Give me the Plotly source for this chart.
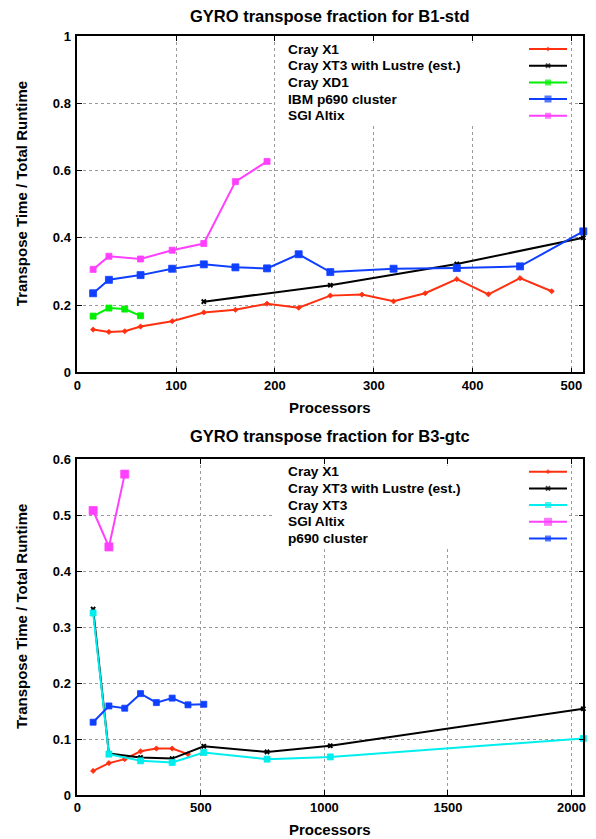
import plotly.graph_objects as go

# ---------------- data ----------------
# Top chart: B1-std
top_x1_x = [16, 32, 48, 64, 96, 128, 160, 192, 224, 256, 288, 320, 352, 384, 416, 448, 480]
top_x1_y = [0.127, 0.120, 0.122, 0.136, 0.152, 0.178, 0.186, 0.204, 0.192, 0.228, 0.231, 0.211, 0.235, 0.277, 0.232, 0.280, 0.241]
top_xt3l_x = [128, 256, 384, 512]
top_xt3l_y = [0.210, 0.259, 0.322, 0.400]
top_xd1_x = [16, 32, 48, 64]
top_xd1_y = [0.167, 0.191, 0.188, 0.168]
top_p690_x = [16, 32, 64, 96, 128, 160, 192, 224, 256, 320, 384, 448, 512]
top_p690_y = [0.235, 0.275, 0.289, 0.308, 0.321, 0.312, 0.309, 0.351, 0.298, 0.308, 0.310, 0.315, 0.419]
top_altix_x = [16, 32, 64, 96, 128, 160, 192]
top_altix_y = [0.306, 0.345, 0.337, 0.363, 0.383, 0.567, 0.627]

# Bottom chart: B3-gtc
bot_x1_x = [64, 128, 192, 256, 320, 384, 448]
bot_x1_y = [0.043, 0.057, 0.064, 0.078, 0.083, 0.083, 0.073]
bot_xt3l_x = [64, 128, 256, 384, 512, 768, 1024, 2048]
bot_xt3l_y = [0.332, 0.074, 0.067, 0.065, 0.087, 0.077, 0.088, 0.154]
bot_xt3_x = [64, 128, 256, 384, 512, 768, 1024, 2048]
bot_xt3_y = [0.325, 0.073, 0.061, 0.058, 0.076, 0.064, 0.068, 0.101]
bot_altix_x = [64, 128, 192]
bot_altix_y = [0.508, 0.443, 0.573]
bot_p690_x = [64, 128, 192, 256, 320, 384, 448, 512]
bot_p690_y = [0.130, 0.159, 0.155, 0.181, 0.165, 0.173, 0.161, 0.162]

top_title = "GYRO transpose fraction for B1-std"
bot_title = "GYRO transpose fraction for B3-gtc"
x_title = "Processors"
y_title = "Transpose Time / Total Runtime"

# ---------------- style ----------------
FONT = "Liberation Sans"
RED = "#ff3010"
BLACK = "#000000"
GREEN = "#00ee00"
BLUE = "#1040ff"
MAGENTA = "#ff40ff"
CYAN = "#00eeee"

W, H = 596, 839
PX_L, PX_R = 77.3, 583.3
TOP_T, TOP_B = 36.0, 372.3
BOT_T, BOT_B = 459.0, 795.0

# legend box geometry (pixels)
BOX_L, BOX_R = 275.0, 568.0
SAMPLE_L, SAMPLE_R = 529.0, 567.0
TEXT_L = 285.7
ROW_STEP = 16.7
TOP_ROW0, TOP_BOX_T, TOP_BOX_B = 49.0, 42.7, 125.0
BOT_ROW0, BOT_BOX_T, BOT_BOX_B = 471.7, 465.7, 546.0


def px_x(p):
    return p / W


def px_y(p):
    return 1 - p / H


top_series = [
    ("Cray X1", top_x1_x, top_x1_y, RED, "diamond", 4),
    ("Cray XT3 with Lustre (est.)", top_xt3l_x, top_xt3l_y, BLACK, "x", 5),
    ("Cray XD1", top_xd1_x, top_xd1_y, GREEN, "square", 6),
    ("IBM p690 cluster", top_p690_x, top_p690_y, BLUE, "square", 7),
    ("SGI Altix", top_altix_x, top_altix_y, MAGENTA, "square", 6),
]
bot_series = [
    ("Cray X1", bot_x1_x, bot_x1_y, RED, "diamond", 4),
    ("Cray XT3 with Lustre (est.)", bot_xt3l_x, bot_xt3l_y, BLACK, "x", 5),
    ("Cray XT3", bot_xt3_x, bot_xt3_y, CYAN, "square", 6),
    ("SGI Altix", bot_altix_x, bot_altix_y, MAGENTA, "square", 8),
    ("p690 cluster", bot_p690_x, bot_p690_y, BLUE, "square", 6),
]

fig = go.Figure()

s0 = (SAMPLE_L - BOX_L) / (BOX_R - BOX_L)
s1 = (SAMPLE_R - BOX_L) / (BOX_R - BOX_L)


def add_series(series, xa, ya, lxa, lya, yr):
    for name, xs, ys, col, sym, sz in series:
        fig.add_trace(go.Scatter(
            x=xs, y=ys, mode="lines+markers", name=name, showlegend=False,
            xaxis=xa, yaxis=ya, line=dict(color=col, width=2),
            marker=dict(color=col, symbol=sym, size=sz,
                        line=dict(width=0.8 if sym != "x" else 0, color=col)),
            cliponaxis=False,
        ))
    # white legend background (covers gridlines)
    fig.add_trace(go.Scatter(
        x=[0, 1, 1, 0, 0], y=[yr[1], yr[1], yr[0], yr[0], yr[1]], mode="lines",
        fill="toself", fillcolor="white", line=dict(width=0, color="white"),
        xaxis=lxa, yaxis=lya, showlegend=False, hoverinfo="skip",
    ))
    for i, (name, xs, ys, col, sym, sz) in enumerate(series):
        fig.add_trace(go.Scatter(
            x=[s0, (s0 + s1) / 2, s1], y=[i + 1] * 3, mode="lines+markers", showlegend=False,
            xaxis=lxa, yaxis=lya, line=dict(color=col, width=2),
            marker=dict(color=col, symbol=sym, size=[0, sz, 0], line=dict(width=0)),
            hoverinfo="skip",
        ))


def legend_range(row0, box_t, box_b):
    # value v maps to pixel row0 + (v - 1) * ROW_STEP
    return [1 + (box_b - row0) / ROW_STEP, 1 + (box_t - row0) / ROW_STEP]


top_yr = legend_range(TOP_ROW0, TOP_BOX_T, TOP_BOX_B)
bot_yr = legend_range(BOT_ROW0, BOT_BOX_T, BOT_BOX_B)

add_series(top_series, "x", "y", "x3", "y3", top_yr)
add_series(bot_series, "x2", "y2", "x4", "y4", bot_yr)

tickfont = dict(family=FONT, size=13, color="black", weight="bold")
common = dict(showline=True, linecolor="black", linewidth=1.5, mirror="ticks",
              ticks="inside", ticklen=5, tickwidth=1, tickcolor="black",
              showgrid=True, gridcolor="#9a9a9a", griddash="dot", gridwidth=1,
              zeroline=False, tickfont=tickfont, automargin=False, tick0=0)

xdom = [px_x(PX_L), px_x(PX_R)]
boxdom = [px_x(BOX_L), px_x(BOX_R)]
fig.update_layout(
    width=W, height=H, margin=dict(l=0, r=0, t=0, b=0),
    template="none", paper_bgcolor="white", plot_bgcolor="white",
    showlegend=False,
    xaxis=dict(domain=xdom, range=[0, 512], dtick=100, anchor="y", **common),
    yaxis=dict(domain=[px_y(TOP_B), px_y(TOP_T)], range=[0, 1], dtick=0.2, anchor="x",
               ticklabelstandoff=2, **common),
    xaxis2=dict(domain=xdom, range=[0, 2048], dtick=500, anchor="y2", **common),
    yaxis2=dict(domain=[px_y(BOT_B), px_y(BOT_T)], range=[0, 0.6], dtick=0.1, anchor="x2",
                ticklabelstandoff=2, **common),
    # legend axes
    xaxis3=dict(domain=boxdom, range=[0, 1], visible=False, anchor="y3", fixedrange=True),
    yaxis3=dict(domain=[px_y(TOP_BOX_B), px_y(TOP_BOX_T)], range=top_yr, visible=False,
                anchor="x3", fixedrange=True),
    xaxis4=dict(domain=boxdom, range=[0, 1], visible=False, anchor="y4", fixedrange=True),
    yaxis4=dict(domain=[px_y(BOT_BOX_B), px_y(BOT_BOX_T)], range=bot_yr, visible=False,
                anchor="x4", fixedrange=True),
)

annots = []
legfont = dict(family=FONT, size=13.7, color="black", weight="bold")
for series, ya in ((top_series, "y3"), (bot_series, "y4")):
    for i, s in enumerate(series):
        annots.append(dict(text=s[0], x=px_x(TEXT_L), xref="paper", y=i + 1, yref=ya,
                           xanchor="left", yanchor="middle", showarrow=False, font=legfont))

tfont = dict(family=FONT, size=16.5, color="black", weight="bold")
afont = dict(family=FONT, size=15, color="black", weight="bold")
cx = px_x((PX_L + PX_R) / 2)
annots += [
    dict(text=top_title, x=cx, y=px_y(15.7), xref="paper", yref="paper", showarrow=False,
         xanchor="center", yanchor="middle", font=tfont),
    dict(text=bot_title, x=cx, y=px_y(435.7), xref="paper", yref="paper", showarrow=False,
         xanchor="center", yanchor="middle", font=tfont),
    dict(text=x_title, x=cx, y=px_y(407.5), xref="paper", yref="paper", showarrow=False,
         xanchor="center", yanchor="middle", font=afont),
    dict(text=x_title, x=cx, y=px_y(829.5), xref="paper", yref="paper", showarrow=False,
         xanchor="center", yanchor="middle", font=afont),
    dict(text=y_title, x=px_x(21), y=px_y((TOP_T + TOP_B) / 2 - 10), xref="paper", yref="paper",
         showarrow=False, textangle=-90, xanchor="center", yanchor="middle", font=afont),
    dict(text=y_title, x=px_x(21), y=px_y((BOT_T + BOT_B) / 2 - 10), xref="paper", yref="paper",
         showarrow=False, textangle=-90, xanchor="center", yanchor="middle", font=afont),
]
fig.update_layout(annotations=annots)

fig.write_html("out.html")
